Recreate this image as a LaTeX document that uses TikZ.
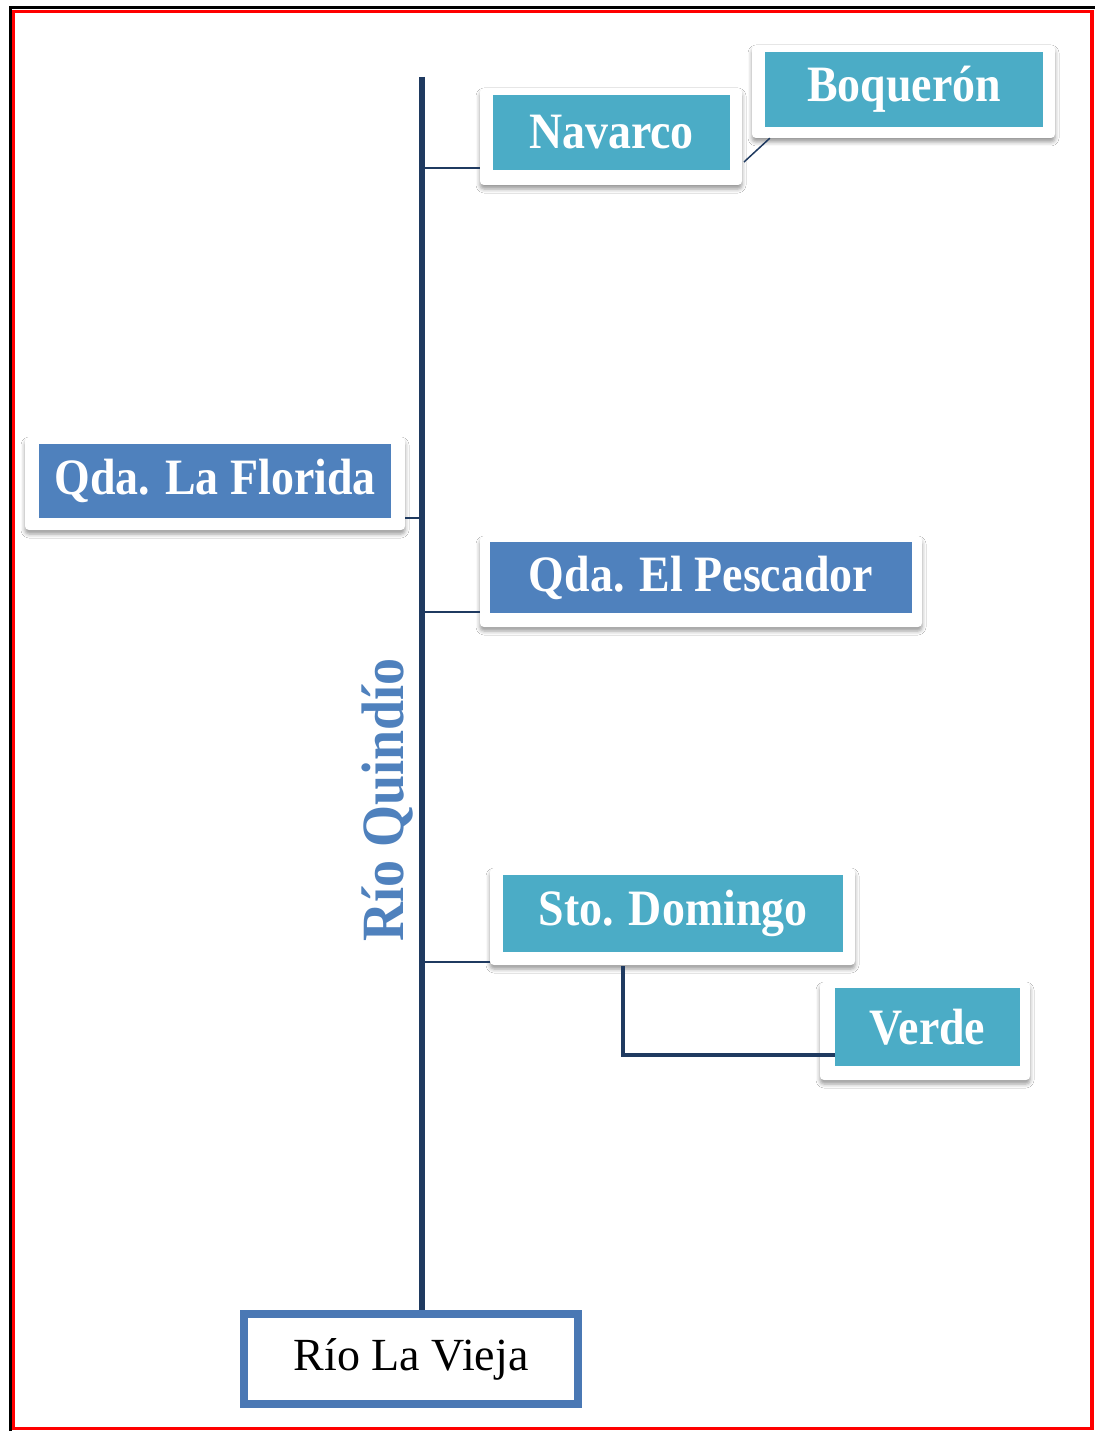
\documentclass[tikz,border=0pt]{standalone}
\usepackage{fontspec}
\setmainfont{Liberation Serif}
\newfontfamily\cardfont[FakeStretch=0.9]{Liberation Serif}
\usetikzlibrary{shadows.blur}
\definecolor{teal}{HTML}{4BACC6}
\definecolor{blueacc}{HTML}{4F81BD}
\definecolor{trunk}{HTML}{1F3A60}
\definecolor{boxline}{HTML}{4A78B4}
\tikzset{
  card/.style={draw=none, fill=white, rounded corners=4pt, inner sep=0pt,
    blur shadow={shadow xshift=0pt, shadow yshift=-4pt, shadow blur radius=4pt, shadow opacity=40}},
  inner/.style={draw=none, inner sep=0pt, text=white,
    font=\cardfont\bfseries\fontsize{51}{60}\selectfont},
  conn/.style={draw=trunk, line width=2pt},
}
\begin{document}
\begin{tikzpicture}[x=1pt,y=-1pt]
\useasboundingbox (0,0) rectangle (1095,1431);
\fill[white] (0,0) rectangle (1095,1431);
% frame
\draw[black, line width=3pt] (10,1431) -- (10,8) -- (1095,8);
\draw[red, line width=3.5pt] (13.5,11.5) rectangle (1092,1428.5);

% cards
\node[card, minimum width=262pt, minimum height=97pt] (navc) at (611,136.5) {};
\node[inner, fill=teal, minimum width=237pt, minimum height=75pt] (nav) at (611.5,132.5) {Navarco};

\node[card, minimum width=303pt, minimum height=93pt] (boqc) at (903.5,91.5) {};
\node[inner, fill=teal, minimum width=278pt, minimum height=75pt] (boq) at (904,89.5) {Boquerón};

\node[card, minimum width=380pt, minimum height=93pt] (florc) at (215,483.5) {};
\node[inner, fill=blueacc, minimum width=352pt, minimum height=74pt] (flor) at (215,481) {Qda.\hspace{0.3em}La Florida};

\node[card, minimum width=442pt, minimum height=91pt] (pesc) at (701,581.5) {};
\node[inner, fill=blueacc, minimum width=422pt, minimum height=71pt] (pes) at (701,577.5) {Qda.\hspace{0.3em}El Pescador};

\node[card, minimum width=365pt, minimum height=97pt] (stoc) at (672.5,916.5) {};
\node[inner, fill=teal, minimum width=340pt, minimum height=77pt] (sto) at (673,913.5) {Sto.\hspace{0.3em}Domingo};

\node[card, minimum width=210pt, minimum height=98pt] (verc) at (925,1031) {};
\node[inner, fill=teal, minimum width=185pt, minimum height=78pt] (ver) at (927.5,1027) {Verde};

% Rio La Vieja
\node[draw=boxline, line width=8pt, fill=white, minimum width=334pt, minimum height=90pt,
      inner sep=0pt, font=\fontsize{46}{52}\selectfont] (vieja) at (411,1359) {Río La Vieja};

% trunk
\coordinate (top) at (422,77);
\draw[trunk, line width=6pt] (top) -- (vieja.north -| top);

% Rio Quindio label
\node[rotate=90, text=blueacc, inner sep=0pt,
      font=\cardfont\bfseries\fontsize{60}{66}\selectfont] (quin) at (388,800) {Río Quindío};

% connectors
\draw[conn] (422,168) -- (navc.west |- 0,168);
\draw[conn] (florc.east |- 0,518) -- (422,518);
\draw[conn] (422,612) -- (pesc.west |- 0,612);
\draw[conn] (422,962) -- (stoc.west |- 0,962);
\draw[conn, line width=1.5pt] (744,162) -- ([xshift=18pt]boqc.south west);
\draw[trunk, line width=4pt] (623,966) -- (623,1055) -- (ver.west |- 0,1055);
\end{tikzpicture}
\end{document}
